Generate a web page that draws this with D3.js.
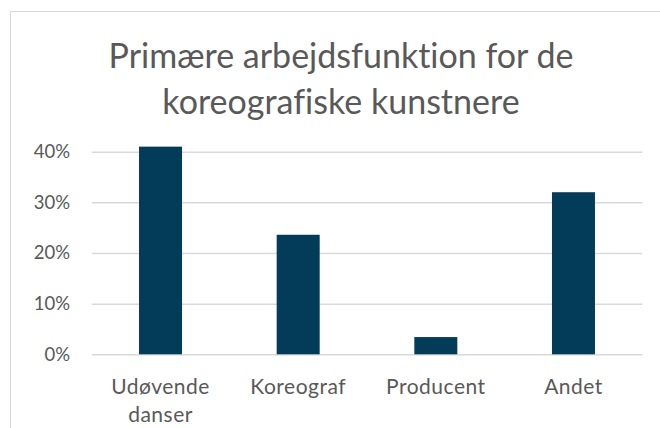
<!doctype html>
<html lang="da">
  <head>
    <meta charset="UTF-8" />
    <title>Primære arbejdsfunktion for de koreografiske kunstnere</title>
    <style>
      body { margin: 0; background: #fff; }
      text { font-family: Lato, "Open Sans", sans-serif; fill: #595959; font-variant-ligatures: none; }
    </style>
  </head>
  <body>
    <div id="chart"></div>
    <script src="https://d3js.org/d3.v7.min.js"></script>
    <script>
      // chart data
      const categories = ['Udøvende danser', 'Koreograf', 'Producent', 'Andet'];
      const shares = [0.41, 0.236, 0.034, 0.32];
      const yTicks = [0, 0.1, 0.2, 0.3, 0.4];
      const titleLines = ['Primære arbejdsfunktion for de', 'koreografiske kunstnere'];

      const width = 660;
      const height = 428;
      const plot = { left: 91.7, right: 642.3, top: 151.7, bottom: 354.3 };

      const svg = d3.select('#chart').append('svg').attr('width', width).attr('height', height);

      // chart area border (runs off the picture right and bottom)
      svg.append('rect')
        .attr('x', 10.5).attr('y', 11.5)
        .attr('width', 700).attr('height', 500)
        .attr('fill', '#fff').attr('stroke', '#d9d9d9');

      // title
      svg.append('text')
        .attr('text-anchor', 'middle')
        .style('font-size', '34px')
        .selectAll('tspan')
        .data(titleLines)
        .join('tspan')
        .attr('x', 341)
        .attr('y', (d, i) => 68 + i * 46)
        .text((d) => d);

      const x = d3.scaleBand()
        .domain(categories)
        .range([plot.left, plot.right])
        .paddingInner(0.6876)
        .paddingOuter(0.3438);

      const y = d3.scaleLinear().domain([0, 0.4]).range([plot.bottom, plot.top]);

      // gridlines
      svg.append('g')
        .attr('transform', `translate(${plot.left},0)`)
        .call(d3.axisLeft(y).tickValues(yTicks).tickSize(-(plot.right - plot.left)).tickFormat(''))
        .call((g) => g.select('.domain').remove())
        .call((g) => g.selectAll('line').attr('stroke', '#d9d9d9').attr('stroke-width', 1.5));

      // y labels
      svg.append('g')
        .attr('transform', `translate(${plot.left},0)`)
        .call(d3.axisLeft(y).tickValues(yTicks).tickSize(0).tickPadding(21.7).tickFormat(d3.format('.0%')))
        .call((g) => g.select('.domain').remove())
        .call((g) => g.selectAll('text').attr('fill', '#595959').style('font-size', '18.5px').style('font-family', 'Lato, sans-serif'));

      // bars
      svg.selectAll('.bar')
        .data(shares)
        .join('rect')
        .attr('class', 'bar')
        .attr('x', (d, i) => x(categories[i]))
        .attr('width', x.bandwidth())
        .attr('y', (d) => y(d))
        .attr('height', (d) => y(0) - y(d))
        .attr('fill', '#033c59');

      // category labels, wrapped on the space for the two-word one
      svg.append('g')
        .attr('transform', `translate(0,${plot.bottom})`)
        .call(d3.axisBottom(x).tickSize(0).tickPadding(0))
        .call((g) => g.select('.domain').remove())
        .call((g) =>
          g.selectAll('text').each(function (d) {
            const t = d3.select(this).text('').attr('y', 0).attr('dy', null)
              .attr('fill', '#595959').style('font-size', '21px').style('font-family', 'Lato, sans-serif')
              .style('letter-spacing', '0.5px');
            d.split(' ').forEach((w, i) => {
              t.append('tspan').attr('x', 0).attr('y', 39.7 + i * 28).text(w);
            });
          })
        );
    </script>
  </body>
</html>
